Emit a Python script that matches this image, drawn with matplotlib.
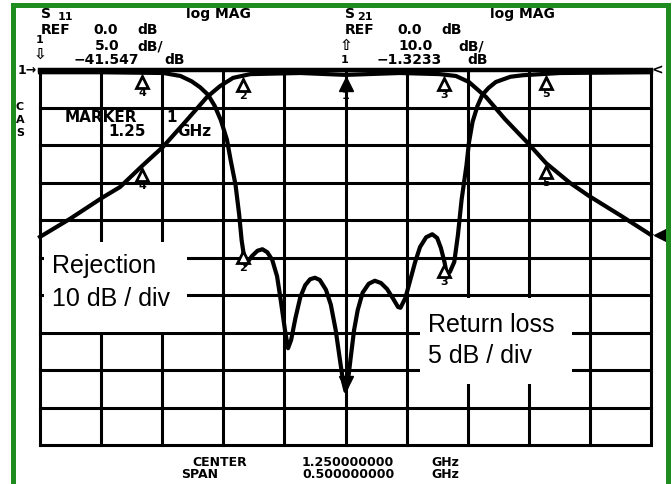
import numpy as np
import matplotlib
matplotlib.use("Agg")
import matplotlib.pyplot as plt
from matplotlib import transforms
from matplotlib.patches import Rectangle

# S11 return loss trace, 5 dB/div (GHz, dB)
s11_freq = [1.000, 1.049, 1.101, 1.115, 1.124, 1.131, 1.1375, 1.143, 1.148, 1.153,
            1.156, 1.160, 1.163, 1.165, 1.168, 1.170, 1.1735, 1.178, 1.182, 1.186,
            1.190, 1.194, 1.197, 1.2005, 1.203, 1.2055, 1.209, 1.213, 1.217, 1.221,
            1.225, 1.229, 1.234, 1.238, 1.242, 1.2455, 1.248, 1.250, 1.252, 1.254,
            1.257, 1.260, 1.264, 1.269, 1.274, 1.279, 1.284, 1.289, 1.293, 1.295,
            1.299, 1.303, 1.307, 1.311, 1.316, 1.321, 1.325, 1.328, 1.331, 1.333,
            1.3355, 1.339, 1.342, 1.345, 1.349, 1.351, 1.354, 1.358, 1.362, 1.367,
            1.373, 1.385, 1.395, 1.4255, 1.500]
s11_db = [-0.3, -0.3, -0.4, -0.8, -1.5, -2.3, -3.3, -4.8, -6.7, -9.3,
          -12.0, -15.3, -19.3, -22.7, -26.0, -25.6, -24.8, -24.1, -23.9, -24.3,
          -25.3, -27.5, -30.7, -34.7, -37.1, -36.0, -33.1, -30.3, -28.7, -27.9,
          -27.7, -28.0, -29.3, -31.3, -34.7, -38.7, -41.5, -42.8, -41.5, -38.7,
          -34.7, -32.0, -29.7, -28.5, -28.1, -28.4, -29.2, -30.5, -31.6, -31.7,
          -30.4, -28.0, -25.6, -23.6, -22.3, -21.9, -22.4, -23.7, -25.6, -27.3,
          -26.9, -25.6, -22.0, -17.3, -12.7, -9.7, -6.9, -4.8, -3.3, -2.4,
          -1.6, -0.9, -0.7, -0.4, -0.3]

# S21 transmission / rejection trace, 10 dB/div
s21_freq = [1.000, 1.0245, 1.0507, 1.0655, 1.0835, 1.1006, 1.1187, 1.1367, 1.1473, 1.158,
            1.172, 1.213, 1.250, 1.2946, 1.327, 1.3404, 1.351, 1.365, 1.3805, 1.3993,
            1.414, 1.4337, 1.4493, 1.4746, 1.500]
s21_db = [-44.5, -39.7, -34.1, -31.2, -25.6, -20.5, -13.9, -7.2, -4.3, -2.1,
          -1.1, -0.8, -1.3, -0.8, -1.1, -1.6, -3.2, -7.2, -13.1, -19.5,
          -24.8, -30.1, -33.6, -38.7, -44.0]

marker_ids = ["4", "2", "3", "5"]
marker_freq = [1.0835, 1.166, 1.331, 1.414]
center_ghz = 1.25
span_ghz = 0.5

W, H = 672, 484
fig = plt.figure(figsize=(6.72, 4.84), dpi=100)
fig.patch.set_facecolor("white")


def fx(x):
    return x / W


def fy(y):
    return 1 - y / H


ax = fig.add_axes([fx(40), fy(445), 611 / W, 375 / H])
ax.set_xlim(center_ghz - span_ghz / 2, center_ghz + span_ghz / 2)
ax.set_ylim(-100, 0)
ax.axis("off")
ax2 = ax.twinx()
ax2.set_ylim(-50, 0)
ax2.axis("off")

# graticule 10 x 10
for f in np.linspace(1.0, 1.5, 11):
    ax.axvline(f, color="black", lw=2.2, clip_on=False, zorder=1)
for d in np.arange(-100, 1, 10):
    ax.axhline(d, color="black", lw=3.2 if d == 0 else 2.2, clip_on=False, zorder=1)

ax.plot(s21_freq, s21_db, color="black", lw=3, solid_joinstyle="round", zorder=3, clip_on=False)
ax2.plot(s11_freq, s11_db, color="black", lw=3, solid_joinstyle="round", zorder=3, clip_on=False)

hp = dict(fontfamily="DejaVu Sans", fontweight="bold", color="black")


def mark(axis, f, tf, tdb, label):
    v = np.interp(f, tf, tdb)
    off = transforms.offset_copy(axis.transData, fig=fig, x=0, y=-9, units="dots")
    axis.plot([f], [v], marker="^", ms=9, mfc="white", mec="black", mew=2,
              transform=off, zorder=5, clip_on=False)
    axis.annotate(label, (f, v), xytext=(0, -20), textcoords="offset pixels",
                  ha="center", va="center", fontsize=8, zorder=5, **hp)


for lab, f in zip(marker_ids, marker_freq):
    mark(ax, f, s21_freq, s21_db, lab)
    mark(ax2, f, s11_freq, s11_db, lab)

# active marker 1 at center
v21 = np.interp(center_ghz, s21_freq, s21_db)
off = transforms.offset_copy(ax.transData, fig=fig, x=0, y=-9, units="dots")
ax.plot([center_ghz], [v21], marker="^", ms=10, color="black", transform=off, zorder=5)
ax.annotate("1", (center_ghz, v21), xytext=(0, -21), textcoords="offset pixels",
            ha="center", va="center", fontsize=8, zorder=5, **hp)
v11 = np.interp(center_ghz, s11_freq, s11_db)
off = transforms.offset_copy(ax2.transData, fig=fig, x=0, y=8, units="dots")
ax2.plot([center_ghz], [v11], marker="v", ms=10, color="black", transform=off, zorder=5)

# reference position arrows at the edges
fig.text(fx(18), fy(71), "1\u2192", fontsize=9, ha="left", va="center", **hp)
fig.text(fx(657), fy(70), "<", fontsize=10, ha="center", va="center", **hp)
off = transforms.offset_copy(ax.transData, fig=fig, x=9, y=0, units="dots")
ax.plot([s21_freq[-1]], [s21_db[-1]], marker="<", ms=8, color="black", transform=off,
        clip_on=False, zorder=5)
for yy, ch in zip([107, 120, 133], ["C", "A", "S"]):
    fig.text(fx(20), fy(yy), ch, fontsize=8, ha="center", va="center", **hp)

# header texts, channel 1
fig.text(fx(46), fy(14), "S", fontsize=10, ha="center", va="center", **hp)
fig.text(fx(65), fy(17), "11", fontsize=8, ha="center", va="center", **hp)
fig.text(fx(218), fy(14), "log MAG", fontsize=10, ha="center", va="center", **hp)
fig.text(fx(56), fy(30), "REF", fontsize=10, ha="center", va="center", **hp)
fig.text(fx(106), fy(30), "0.0", fontsize=10, ha="center", va="center", **hp)
fig.text(fx(148), fy(30), "dB", fontsize=10, ha="center", va="center", **hp)
fig.text(fx(40), fy(40), "1", fontsize=8, ha="center", va="center", **hp)
fig.text(fx(40), fy(54), "\u21e9", fontsize=11, ha="center", va="center", **hp)
fig.text(fx(107), fy(46), "5.0", fontsize=10, ha="center", va="center", **hp)
fig.text(fx(150), fy(46), "dB/", fontsize=10, ha="center", va="center", **hp)
fig.text(fx(106), fy(60), "\u221241.547", fontsize=10, ha="center", va="center", **hp)
fig.text(fx(175), fy(60), "dB", fontsize=10, ha="center", va="center", **hp)

# header texts, channel 2
fig.text(fx(350), fy(14), "S", fontsize=10, ha="center", va="center", **hp)
fig.text(fx(365), fy(17), "21", fontsize=8, ha="center", va="center", **hp)
fig.text(fx(522), fy(14), "log MAG", fontsize=10, ha="center", va="center", **hp)
fig.text(fx(360), fy(30), "REF", fontsize=10, ha="center", va="center", **hp)
fig.text(fx(410), fy(30), "0.0", fontsize=10, ha="center", va="center", **hp)
fig.text(fx(452), fy(30), "dB", fontsize=10, ha="center", va="center", **hp)
fig.text(fx(346), fy(46), "\u21e7", fontsize=11, ha="center", va="center", **hp)
fig.text(fx(345), fy(60), "1", fontsize=8, ha="center", va="center", **hp)
fig.text(fx(416), fy(46), "10.0", fontsize=10, ha="center", va="center", **hp)
fig.text(fx(471), fy(46), "dB/", fontsize=10, ha="center", va="center", **hp)
fig.text(fx(409), fy(60), "\u22121.3233", fontsize=10, ha="center", va="center", **hp)
fig.text(fx(478), fy(60), "dB", fontsize=10, ha="center", va="center", **hp)

# marker readout
fig.text(fx(101), fy(117), "MARKER", fontsize=11, ha="center", va="center", **hp)
fig.text(fx(172), fy(117), "1", fontsize=11, ha="center", va="center", **hp)
fig.text(fx(127), fy(132), "1.25", fontsize=11, ha="center", va="center", **hp)
fig.text(fx(194), fy(132), "GHz", fontsize=11, ha="center", va="center", **hp)

# footer
fig.text(fx(220), fy(462), "CENTER", fontsize=9, ha="center", va="center", **hp)
fig.text(fx(348), fy(462), "%.9f" % center_ghz, fontsize=9, ha="center", va="center", **hp)
fig.text(fx(445), fy(462), "GHz", fontsize=9, ha="center", va="center", **hp)
fig.text(fx(200), fy(475), "SPAN", fontsize=9, ha="center", va="center", **hp)
fig.text(fx(348), fy(475), "%.9f" % span_ghz, fontsize=9, ha="center", va="center", **hp)
fig.text(fx(445), fy(475), "GHz", fontsize=9, ha="center", va="center", **hp)

# white label boxes with annotations
for x0, y0, x1, y1 in [(44, 242, 187, 332), (420, 298, 572, 384)]:
    fig.add_artist(Rectangle((fx(x0), fy(y1)), (x1 - x0) / W, (y1 - y0) / H,
                             transform=fig.transFigure, facecolor="white",
                             edgecolor="none", zorder=1))
lab = dict(fontfamily="Liberation Sans", fontsize=18, color="black", ha="left", va="baseline")
fig.text(fx(52), fy(273), "Rejection", **lab)
fig.text(fx(52), fy(306), "10 dB / div", **lab)
fig.text(fx(428), fy(332), "Return loss", **lab)
fig.text(fx(428), fy(363), "5 dB / div", **lab)

# green frame
fig.add_artist(Rectangle((fx(12.5), fy(495)), 655 / W, 490.5 / H,
                         transform=fig.transFigure, facecolor="none",
                         edgecolor="#1f8c1f", lw=3.6, zorder=10))

fig.savefig("out.png", dpi=100, facecolor="white")
